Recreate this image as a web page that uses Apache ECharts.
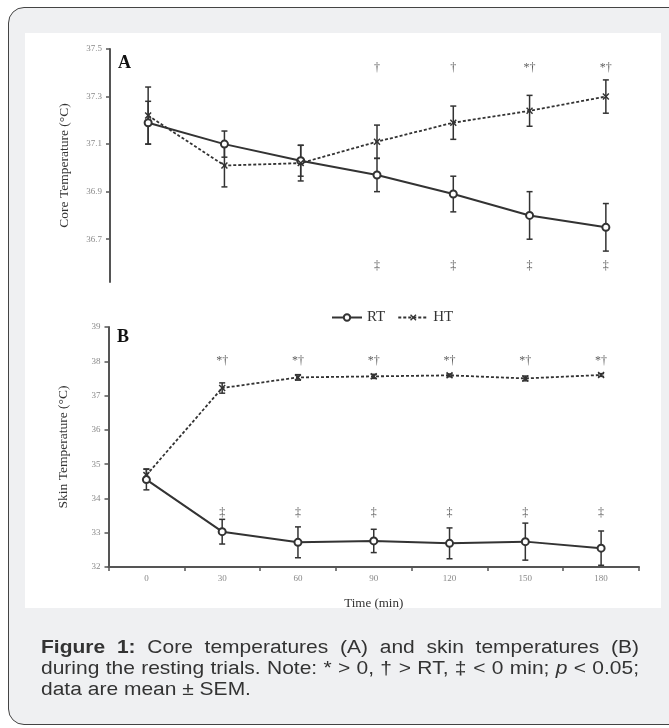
<!DOCTYPE html>
<html>
<head>
<meta charset="utf-8">
<script src="https://cdn.jsdelivr.net/npm/echarts@6/dist/echarts.min.js"></script>
<style>
  body { margin: 0; background: #fff; width: 669px; height: 728px; overflow: hidden; position: relative; }
  #card { position: absolute; left: 8px; top: 7px; width: 680px; height: 716px; border: 1.5px solid #444;
          border-radius: 16px; background: #eff0f2; }
  #panel { position: absolute; left: 25px; top: 33px; width: 636px; height: 575px; background: #fff; }
  #container { position: absolute; left: 0; top: 0; width: 669px; height: 728px; }
  #caption { position: absolute; left: 41px; top: 636px; width: 598px; font-family: "Liberation Sans", Arial, sans-serif;
             font-size: 21px; line-height: 23.9px; color: #333; transform: scaleY(0.88); transform-origin: 0 0; }
  #caption .j { text-align: justify; text-align-last: justify; white-space: nowrap; }
</style>
</head>
<body>
<div id="card"></div>
<div id="panel"></div>
<div id="container"></div>
<div id="caption">
  <div class="j"><b>Figure 1:</b> Core temperatures (A) and skin temperatures (B)</div>
  <div class="j">during the resting trials. Note: * &gt; 0, &dagger; &gt; RT, &Dagger; &lt; 0 min; <i>p</i> &lt; 0.05;</div>
  <div>data are mean &plusmn; SEM.</div>
</div>
<script>
// time points (min)
let times = ['0', '30', '60', '90', '120', '150', '180'];

// A: core temperature
let coreRT = [37.19, 37.10, 37.03, 36.97, 36.89, 36.80, 36.75];
let coreRTsem = [0.09, 0.055, 0.065, 0.07, 0.075, 0.10, 0.10];
let coreHT = [37.22, 37.01, 37.02, 37.11, 37.19, 37.24, 37.30];
let coreHTsem = [0.12, 0.09, 0.075, 0.07, 0.07, 0.065, 0.07];
let coreSigTop = ['', '', '', '†', '†', '*†', '*†'];
let coreSigBottom = ['', '', '', '‡', '‡', '‡', '‡'];
let coreTicks = [36.7, 36.9, 37.1, 37.3, 37.5];

// B: skin temperature
let skinRT = [34.55, 33.03, 32.72, 32.76, 32.69, 32.74, 32.55];
let skinRTsem = [0.30, 0.36, 0.45, 0.34, 0.45, 0.54, 0.50];
let skinHT = [34.68, 37.22, 37.53, 37.56, 37.59, 37.50, 37.60];
let skinHTsem = [0.18, 0.15, 0.08, 0.06, 0.04, 0.07, 0.04];
let skinSigTop = ['', '*†', '*†', '*†', '*†', '*†', '*†'];
let skinSigBottom = ['', '‡', '‡', '‡', '‡', '‡', '‡'];

const serif = '"Liberation Serif", "DejaVu Serif", serif';
const ink = '#333';
const xMark = 'path://M0,1.5L1.5,0L5,3.5L8.5,0L10,1.5L6.5,5L10,8.5L8.5,10L5,6.5L1.5,10L0,8.5L3.5,5Z';

function errData(vals, sems) {
    return vals.map((v, i) => [i, v - sems[i], v + sems[i]]);
}

function errRender(params, api) {
    let x = api.value(0);
    let lo = api.coord([x, api.value(1)]);
    let hi = api.coord([x, api.value(2)]);
    let w = 3;
    let st = { stroke: ink, lineWidth: 1.5 };
    return {
        type: 'group',
        children: [
            { type: 'line', shape: { x1: lo[0], y1: lo[1], x2: hi[0], y2: hi[1] }, style: st },
            { type: 'line', shape: { x1: lo[0] - w, y1: lo[1], x2: lo[0] + w, y2: lo[1] }, style: st },
            { type: 'line', shape: { x1: hi[0] - w, y1: hi[1], x2: hi[0] + w, y2: hi[1] }, style: st }
        ]
    };
}

function errSeries(vals, sems, idx) {
    return {
        type: 'custom', xAxisIndex: idx, yAxisIndex: idx,
        renderItem: errRender, encode: { x: 0, y: [1, 2] },
        data: errData(vals, sems), silent: true, z: 1
    };
}

function sigSeries(sigs, level, idx) {
    let d = [];
    sigs.forEach((s, i) => { if (s) d.push({ value: [i, level], label: { formatter: s } }); });
    return {
        type: 'scatter', xAxisIndex: idx, yAxisIndex: idx, symbolSize: 0, silent: true,
        label: { show: true, position: 'inside', fontFamily: serif, fontSize: 12, color: ink },
        data: d
    };
}

function rtSeries(vals, idx) {
    return {
        name: 'RT', type: 'line', xAxisIndex: idx, yAxisIndex: idx, data: vals,
        symbol: 'emptyCircle', symbolSize: 7, z: 3,
        lineStyle: { color: ink, width: 2 }, itemStyle: { color: ink, borderWidth: 1.5 }
    };
}

function htSeries(vals, idx) {
    return {
        name: 'HT', type: 'line', xAxisIndex: idx, yAxisIndex: idx, data: vals,
        symbol: xMark, symbolSize: 7, z: 3,
        lineStyle: { color: ink, width: 1.8, type: [3, 2] }, itemStyle: { color: ink }
    };
}

const axisLabelStyle = { fontFamily: serif, fontSize: 9, color: '#888' };
const axisLineStyle = { show: true, lineStyle: { color: '#555', width: 2 } };
const nameStyle = { fontFamily: serif, fontSize: 13.5, color: ink };

let chart = echarts.init(document.getElementById('container'));
chart.setOption({
    animation: false,
    legend: {
        left: 326, top: 305, itemWidth: 30, itemHeight: 8, itemGap: 12,
        textStyle: { fontFamily: serif, fontSize: 15, color: ink },
        data: ['RT', 'HT']
    },
    graphic: [
        { type: 'text', left: 118, top: 54, style: { text: 'A', font: 'bold 18px ' + serif, fill: '#111' } },
        { type: 'text', left: 117, top: 328, style: { text: 'B', font: 'bold 18px ' + serif, fill: '#111' } }
    ],
    grid: [
        { left: 110, right: 25, top: 49, height: 233 },
        { left: 108.5, right: 30, top: 327, height: 240 }
    ],
    xAxis: [
        { type: 'category', gridIndex: 0, data: times, show: false },
        {
            type: 'category', gridIndex: 1, data: times,
            axisLine: axisLineStyle,
            axisTick: { show: true, length: 4, interval: 0, lineStyle: { color: '#555', width: 1.5 } },
            axisLabel: Object.assign({ margin: 7 }, axisLabelStyle),
            name: 'Time (min)', nameLocation: 'middle', nameGap: 30,
            nameTextStyle: { fontFamily: serif, fontSize: 13, color: ink }
        }
    ],
    yAxis: [
        {
            type: 'value', gridIndex: 0, min: 36.52, max: 37.5,
            splitLine: { show: false },
            axisLine: axisLineStyle,
            axisTick: { show: true, length: 4, customValues: coreTicks, lineStyle: { color: '#555', width: 1.5 } },
            axisLabel: Object.assign({ customValues: coreTicks, margin: 8, formatter: v => v.toFixed(1) }, axisLabelStyle),
            name: 'Core Temperature (°C)', nameLocation: 'middle', nameGap: 39,
            nameTextStyle: nameStyle
        },
        {
            type: 'value', gridIndex: 1, min: 32, max: 39, interval: 1,
            splitLine: { show: false },
            axisLine: axisLineStyle,
            axisTick: { show: true, length: 4, lineStyle: { color: '#555', width: 1.5 } },
            axisLabel: Object.assign({ margin: 8 }, axisLabelStyle),
            name: 'Skin Temperature (°C)', nameLocation: 'middle', nameGap: 38,
            nameTextStyle: nameStyle
        }
    ],
    series: [
        errSeries(coreRT, coreRTsem, 0),
        errSeries(coreHT, coreHTsem, 0),
        rtSeries(coreRT, 0),
        htSeries(coreHT, 0),
        sigSeries(coreSigTop, 37.42, 0),
        sigSeries(coreSigBottom, 36.59, 0),
        errSeries(skinRT, skinRTsem, 1),
        errSeries(skinHT, skinHTsem, 1),
        rtSeries(skinRT, 1),
        htSeries(skinHT, 1),
        sigSeries(skinSigTop, 38.01, 1),
        sigSeries(skinSigBottom, 33.58, 1)
    ]
});
</script>
</body>
</html>
